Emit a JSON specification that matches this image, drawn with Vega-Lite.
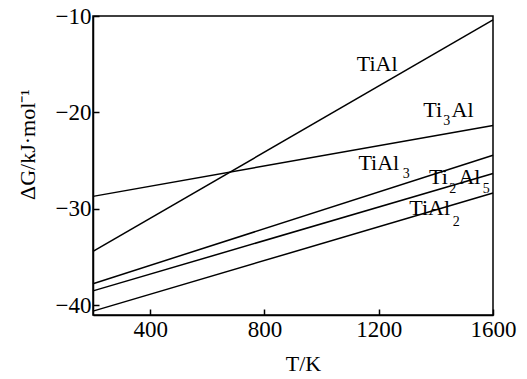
{
  "$schema": "https://vega.github.io/schema/vega-lite/v6.json",
  "width": 400,
  "height": 299,
  "autosize": {"type": "none"},
  "padding": {"left": 93, "top": 16, "right": 34, "bottom": 64},
  "background": "white",
  "config": {
    "font": "Liberation Serif",
    "view": {"stroke": "black", "strokeWidth": 1.5},
    "axis": {
      "domainColor": "black", "domainWidth": 1.5,
      "tickColor": "black", "tickWidth": 1.5, "tickSize": -6,
      "grid": false, "labelFlush": false, "labelOverlap": false,
      "labelFont": "Liberation Serif", "labelFontSize": 23, "labelColor": "black",
      "titleFont": "Liberation Serif", "titleFontSize": 22, "titleColor": "black", "titleFontWeight": "normal"
    }
  },
  "datasets": {
    "lines": [
      {"phase": "TiAl", "T": 200, "G": -34.4},
      {"phase": "TiAl", "T": 1600, "G": -10.4},
      {"phase": "Ti3Al", "T": 200, "G": -28.7},
      {"phase": "Ti3Al", "T": 1600, "G": -21.35},
      {"phase": "TiAl3", "T": 200, "G": -37.76},
      {"phase": "TiAl3", "T": 1600, "G": -24.43},
      {"phase": "Ti2Al5", "T": 200, "G": -38.5},
      {"phase": "Ti2Al5", "T": 1600, "G": -26.33},
      {"phase": "TiAl2", "T": 200, "G": -40.6},
      {"phase": "TiAl2", "T": 1600, "G": -28.35}
    ],
    "labels": [
      {"part": "main", "text": "TiAl", "T": 1123, "G": -15.67},
      {"part": "main", "text": "Ti", "T": 1356, "G": -20.44},
      {"part": "sub", "text": "3", "T": 1426, "G": -21.3},
      {"part": "main", "text": "Al", "T": 1455, "G": -20.44},
      {"part": "main", "text": "TiAl", "T": 1129, "G": -25.97},
      {"part": "sub", "text": "3", "T": 1284, "G": -26.83},
      {"part": "main", "text": "Ti", "T": 1376, "G": -27.42},
      {"part": "sub", "text": "2", "T": 1447, "G": -28.32},
      {"part": "main", "text": "Al", "T": 1479, "G": -27.42},
      {"part": "sub", "text": "5", "T": 1564, "G": -28.32},
      {"part": "main", "text": "TiAl", "T": 1307, "G": -30.63},
      {"part": "sub", "text": "2", "T": 1459, "G": -31.77}
    ]
  },
  "layer": [
    {
      "data": {"name": "lines"},
      "mark": {"type": "line", "color": "black", "strokeWidth": 1.5},
      "encoding": {
        "x": {"field": "T", "type": "quantitative",
              "scale": {"domain": [200, 1600], "nice": false, "zero": false},
              "axis": {"values": [400, 800, 1200, 1600], "format": "d", "title": "T/K", "labelPadding": 9, "titlePadding": 12, "titleX": 210}},
        "y": {"field": "G", "type": "quantitative",
              "scale": {"domain": [-41, -10], "nice": false, "zero": false},
              "axis": {"values": [-40, -30, -20, -10], "title": "ΔG/kJ·mol⁻¹", "labelPadding": 8, "titleX": -66, "titleY": 128, "titleBaseline": "middle", "titleAlign": "center", "titleAngle": -90}},
        "detail": {"field": "phase"}
      }
    },
    {
      "data": {"name": "labels"},
      "transform": [{"filter": "datum.part === 'main'"}],
      "mark": {"type": "text", "align": "left", "baseline": "alphabetic", "fontSize": 22, "font": "Liberation Serif", "color": "black"},
      "encoding": {
        "x": {"field": "T", "type": "quantitative"},
        "y": {"field": "G", "type": "quantitative"},
        "text": {"field": "text"}
      }
    },
    {
      "data": {"name": "labels"},
      "transform": [{"filter": "datum.part === 'sub'"}],
      "mark": {"type": "text", "align": "left", "baseline": "alphabetic", "fontSize": 14, "font": "Liberation Serif", "color": "black"},
      "encoding": {
        "x": {"field": "T", "type": "quantitative"},
        "y": {"field": "G", "type": "quantitative"},
        "text": {"field": "text"}
      }
    }
  ]
}
